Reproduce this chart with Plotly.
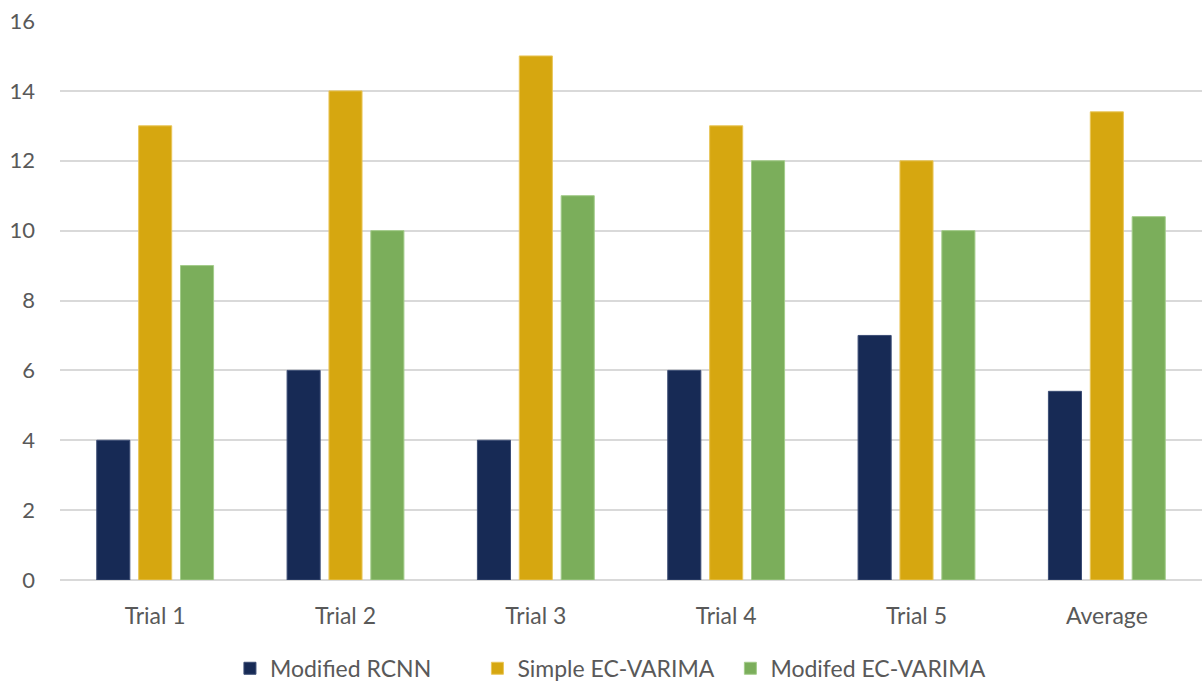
import plotly.graph_objects as go

# Categories and series values
categories = ["Trial 1", "Trial 2", "Trial 3", "Trial 4", "Trial 5", "Average"]
modified_rcnn = [4, 6, 4, 6, 7, 5.4]
simple_ec_varima = [13, 14, 15, 13, 12, 13.4]
modified_ec_varima = [9, 10, 11, 12, 10, 10.4]

series_names = ["Modified RCNN", "Simple EC-VARIMA", "Modifed EC-VARIMA"]
series_values = [modified_rcnn, simple_ec_varima, modified_ec_varima]
series_colors = ["#172a55", "#d6a710", "#7bae5b"]
outline_colors = ["#3c4d75", "#e9c65a", "#a3cc8a"]
# extra non-breaking space after each legend label, widening the gap between entries
legend_padding = [7, 2, 0]

y_ticks = [0, 2, 4, 6, 8, 10, 12, 14, 16]

fig = go.Figure()
for name, vals, col, oc, pad in zip(series_names, series_values, series_colors,
                                    outline_colors, legend_padding):
    fig.add_trace(go.Bar(
        x=categories, y=vals, name=name + "\u00a0" * pad,
        marker=dict(color=col, line=dict(color=oc, width=1)),
    ))

font_family = "Lato, 'Open Sans', sans-serif"
fig.update_layout(
    width=1202, height=686,
    margin=dict(l=60, r=0, t=21, b=106, autoexpand=False),
    paper_bgcolor="white", plot_bgcolor="white",
    barmode="group", bargap=0.34, bargroupgap=0.21,
    font=dict(family=font_family, color="#595959", size=23),
    showlegend=True,
    legend=dict(orientation="h", x=0.482, xanchor="center", y=-0.158, yanchor="middle",
                font=dict(size=23, color="#595959"), itemwidth=30,
                traceorder="normal"),
    xaxis=dict(type="category", showgrid=False, showline=False, ticks="",
               automargin=False,
               tickfont=dict(size=23, color="#595959"), ticklabelstandoff=20),
    yaxis=dict(range=[0, 16], tickvals=y_ticks, showgrid=True, gridcolor="#d9d9d9",
               gridwidth=1.5, zeroline=True, zerolinecolor="#d9d9d9", zerolinewidth=1.5,
               automargin=False,
               showline=False, ticks="", tickfont=dict(size=22, color="#595959"),
               ticklabelstandoff=24),
)

fig.write_html("out.html")
